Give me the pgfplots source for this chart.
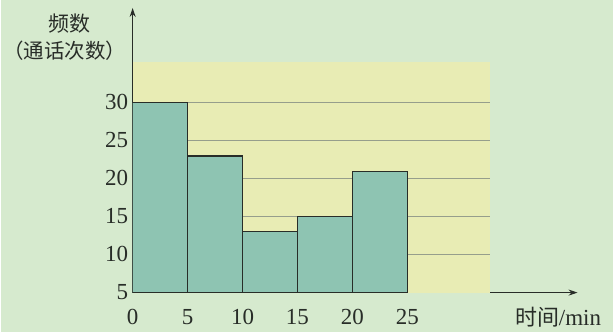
\documentclass[border=0pt]{standalone}
\usepackage{fontspec}
\setmainfont{Liberation Serif}
\newfontfamily\cjk{Noto Sans CJK SC}
\usepackage{pgfplots}
\pgfplotsset{compat=1.18}
\usetikzlibrary{arrows.meta}
\definecolor{bg}{RGB}{214,234,206}
\definecolor{yel}{RGB}{232,236,180}
\definecolor{barc}{RGB}{142,196,178}
\definecolor{dark}{RGB}{40,45,40}
\definecolor{gridc}{RGB}{150,158,140}
\begin{document}
\begin{tikzpicture}
\fill[bg] (-132pt,-39pt) rectangle (481pt,293pt);
\begin{axis}[
  at={(0pt,0pt)}, anchor=south west,
  x=11pt, y=7.6pt,
  xmin=0, xmax=40.5, ymin=5, ymax=42.5,
  axis lines=left,
  axis line style={-{Stealth[length=9pt,width=6pt]}, line width=1pt, draw=dark},
  major tick length=0pt,
  xtick={0,5,...,25}, ytick={5,10,...,30},
  /pgf/number format/assume math mode=true,
  tick label style={font=\fontsize{23}{25}\selectfont, text=dark},
  xticklabel style={yshift=-13pt},
  yticklabel style={xshift=-1pt, yshift=1pt},
]
\fill[yel] (axis cs:0,5) rectangle (axis cs:32.5,35.4);
\pgfplotsinvokeforeach{10,15,20,25,30}{
  \draw[gridc, line width=0.8pt] (axis cs:0,#1) -- (axis cs:32.5,#1);
}
\addplot[ybar interval, fill=barc, draw=dark, line width=1.2pt]
  coordinates {(0,30)(5,23)(10,13)(15,15)(20,21)(25,21)};
\end{axis}
\node[text=dark, font=\cjk\fontsize{21}{23}\selectfont] at (-63pt,269pt) {频数};
\node[text=dark, font=\cjk\fontsize{20.5}{23}\selectfont] at (-68pt,242pt) {（通话次数）};
\node[text=dark, font=\fontsize{23}{25}\selectfont] at (426pt,-25pt) {{\cjk\fontsize{22}{25}\selectfont 时间}/min};
\end{tikzpicture}
\end{document}
